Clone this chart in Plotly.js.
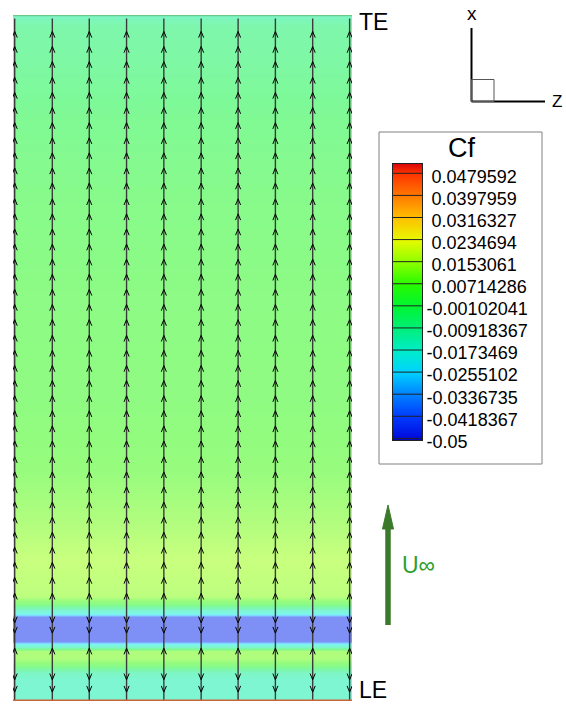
<!DOCTYPE html>
<html>
<head>
<meta charset="utf-8">
<script src="https://cdn.plot.ly/plotly-3.0.1.min.js"></script>
<style>html,body{margin:0;padding:0;background:#fff}#chart{width:566px;height:706px}</style>
</head>
<body>
<div id="chart"></div>
<script>
// ---------------- data ----------------
// spanwise positions (z) of the surface-streamline columns
const columnZ = [0.005, 0.116, 0.225, 0.335, 0.445, 0.555, 0.664, 0.774, 0.884, 0.993];

// chordwise Cf distribution (x/c : 0 = LE, 1 = TE)
const fieldChord = [0.000, 0.030, 0.042, 0.052, 0.063, 0.073, 0.079, 0.083, 0.087, 0.122, 0.127, 0.133, 0.141, 0.153, 0.206, 0.264, 0.337, 0.438, 0.584, 0.730, 0.846, 0.934, 0.985, 0.996, 1.000];
const fieldCf    = [-0.014, -0.014, -0.011, 0.005, 0.012, 0.012, -0.012, -0.020, -0.046, -0.046, -0.020, -0.014, 0.004, 0.014, 0.016, 0.012, 0.008, 0.006, 0.005, 0.003, 0.000, -0.004, -0.006, -0.010, -0.012];

// arrowheads along each streamline: chord position and direction (+1 toward TE, -1 toward LE)
const arrowChord = [0.976, 0.954, 0.932, 0.909, 0.887, 0.865, 0.843, 0.821, 0.799, 0.777, 0.755, 0.732, 0.710, 0.688, 0.666, 0.644, 0.622, 0.600, 0.578, 0.556, 0.533, 0.511, 0.489, 0.467, 0.445, 0.423, 0.401, 0.379, 0.356, 0.334, 0.312, 0.290, 0.268, 0.246, 0.224, 0.202, 0.180, 0.157, 0.114, 0.099, 0.077, 0.031, 0.013];
const arrowDir   = [1, 1, 1, 1, 1, 1, 1, 1, 1, 1, 1, 1, 1, 1, 1, 1, 1, 1, 1, 1, 1, 1, 1, 1, 1, 1, 1, 1, 1, 1, 1, 1, 1, 1, 1, 1, 1, 1, -1, -1, 1, -1, -1];

// legend levels and labels
const legendLevels = [-0.05, -0.0418367, -0.0336735, -0.0255102, -0.0173469, -0.00918367, -0.00102041, 0.00714286, 0.0153061, 0.0234694, 0.0316327, 0.0397959, 0.0479592];
const legendLabels = ['-0.05', '-0.0418367', '-0.0336735', '-0.0255102', '-0.0173469', '-0.00918367', '-0.00102041', '0.00714286', '0.0153061', '0.0234694', '0.0316327', '0.0397959', '0.0479592'];

// colour map stops (value, rgb)
const cmapValues = [-0.0506, -0.05, -0.0418367, -0.0336735, -0.0255102, -0.0173469, -0.00918367, -0.00102041, 0.00714286, 0.0153061, 0.0234694, 0.0316327, 0.0397959, 0.0479592, 0.0514];
const cmapColors = ['rgb(0,0,170)', 'rgb(0,10,220)', 'rgb(0,60,255)', 'rgb(0,130,255)', 'rgb(0,210,255)', 'rgb(0,238,200)', 'rgb(0,238,120)', 'rgb(0,245,50)', 'rgb(40,250,0)', 'rgb(140,255,0)', 'rgb(230,250,0)', 'rgb(255,190,0)', 'rgb(255,120,0)', 'rgb(255,50,0)', 'rgb(220,10,10)'];

// ---------------- styling helpers ----------------
const W = 566, H = 706;
const FONT = 'Liberation Sans, Arial, sans-serif';
const PX = x => x / W;
const PY = y => (H - y) / H;
const zMin = cmapValues[0], zMax = cmapValues[cmapValues.length - 1];
const colorscale = cmapValues.map((v, i) => [(v - zMin) / (zMax - zMin), cmapColors[i]]);
colorscale[colorscale.length - 1][0] = 1;
const HEAD_W = 0.0075, HEAD_H = 0.009;
const STREAK_TOP = 0.995;

// ---------------- traces ----------------
const field = {
  type: 'heatmap', x: [0, 1], y: fieldChord, z: fieldCf.map(v => [v, v]),
  colorscale: colorscale, zmin: zMin, zmax: zMax, zsmooth: 'best', opacity: 0.5,
  showscale: false, hoverinfo: 'skip', xaxis: 'x', yaxis: 'y'
};

const lx = [], ly = [];
columnZ.forEach(z => { lx.push(z, z, null); ly.push(0, STREAK_TOP, null); });
const streaks = { type: 'scatter', mode: 'lines', x: lx, y: ly, line: { color: '#3c3c3c', width: 1.4 }, hoverinfo: 'skip' };

const hx = [], hy = [];
columnZ.forEach(z => {
  arrowChord.forEach((c, i) => {
    const d = arrowDir[i];
    hx.push(z - HEAD_W, z, z + HEAD_W, null);
    hy.push(c - d * HEAD_H, c, c - d * HEAD_H, null);
  });
});
const heads = { type: 'scatter', mode: 'lines', x: hx, y: hy, line: { color: '#000', width: 1 }, hoverinfo: 'skip' };

const leLine = { type: 'scatter', mode: 'lines', x: [0, 1], y: [0, 0], line: { color: '#c9653f', width: 3 }, cliponaxis: false, hoverinfo: 'skip' };
const teLine = { type: 'scatter', mode: 'lines', x: [0, 1], y: [1, 1], line: { color: '#66cc88', width: 2.5 }, cliponaxis: false, hoverinfo: 'skip' };

const legendStrip = {
  type: 'heatmap', x: [0, 1], y: cmapValues, z: cmapValues.map(v => [v, v]),
  colorscale: colorscale, zmin: zMin, zmax: zMax, zsmooth: 'best',
  showscale: false, hoverinfo: 'skip', xaxis: 'x2', yaxis: 'y2'
};
const gx = [], gy = [];
legendLevels.forEach(v => { gx.push(0, 1, null); gy.push(v, v, null); });
const legendLines = { type: 'scatter', mode: 'lines', x: gx, y: gy, xaxis: 'x2', yaxis: 'y2', line: { color: '#222', width: 1 }, hoverinfo: 'skip' };

// positive labels get a leading space so digits line up after the minus sign
const tickText = legendLabels.map(t => t.charAt(0) === '-' ? t : '\u00a0' + t);

// ---------------- layout ----------------
const green = '#3b7a2a';
const layout = {
  width: W, height: H, margin: { l: 0, r: 0, t: 0, b: 0 },
  paper_bgcolor: '#fff', plot_bgcolor: '#fff', showlegend: false,
  font: { family: FONT, color: '#000' },
  xaxis: { domain: [PX(13), PX(352)], range: [0, 1], visible: false },
  yaxis: { domain: [PY(701), PY(15)], range: [0, 1], visible: false },
  xaxis2: { domain: [PX(393), PX(422)], range: [0, 1], anchor: 'y2', showticklabels: false, ticks: '', showgrid: false, zeroline: false, showline: true, mirror: true, linecolor: '#222', linewidth: 1 },
  yaxis2: { domain: [PY(440), PY(164)], range: [zMin, zMax], anchor: 'x2', side: 'right', tickmode: 'array', tickvals: legendLevels, ticktext: tickText, ticks: '', showgrid: false, zeroline: false, showline: true, mirror: true, linecolor: '#222', linewidth: 1, tickfont: { family: FONT, size: 18, color: '#000' }, ticklabelshift: 3 },
  shapes: [
    { type: 'rect', xref: 'paper', yref: 'paper', x0: PX(379), x1: PX(542), y0: PY(464), y1: PY(132), line: { color: '#808080', width: 1 } },
    { type: 'line', xref: 'paper', yref: 'paper', x0: PX(471.5), x1: PX(471.5), y0: PY(101.5), y1: PY(28), line: { color: '#000', width: 2 } },
    { type: 'line', xref: 'paper', yref: 'paper', x0: PX(471.5), x1: PX(545), y0: PY(101.5), y1: PY(101.5), line: { color: '#000', width: 2 } },
    { type: 'rect', xref: 'paper', yref: 'paper', x0: PX(471.5), x1: PX(494), y0: PY(101.5), y1: PY(79.5), line: { color: '#555', width: 1 } },
    { type: 'line', xref: 'paper', yref: 'paper', x0: PX(388), x1: PX(388), y0: PY(625), y1: PY(527), line: { color: green, width: 5.5 } },
    { type: 'path', xref: 'paper', yref: 'paper', path: `M${PX(382.5)},${PY(529)} L${PX(388)},${PY(505)} L${PX(393.5)},${PY(529)} Z`, fillcolor: green, line: { color: green, width: 1 } }
  ],
  annotations: [
    { xref: 'paper', yref: 'paper', x: PX(357), y: PY(22), xanchor: 'left', yanchor: 'middle', text: 'TE', showarrow: false, font: { size: 23, color: '#000' } },
    { xref: 'paper', yref: 'paper', x: PX(357), y: PY(690), xanchor: 'left', yanchor: 'middle', text: 'LE', showarrow: false, font: { size: 23, color: '#000' } },
    { xref: 'paper', yref: 'paper', x: PX(461), y: PY(148), xanchor: 'center', yanchor: 'middle', text: 'Cf', showarrow: false, font: { size: 27, color: '#000' } },
    { xref: 'paper', yref: 'paper', x: PX(471.5), y: PY(13), xanchor: 'center', yanchor: 'middle', text: 'x', showarrow: false, font: { size: 19, color: '#000' } },
    { xref: 'paper', yref: 'paper', x: PX(557), y: PY(101), xanchor: 'center', yanchor: 'middle', text: 'Z', showarrow: false, font: { size: 17, color: '#000' } },
    { xref: 'paper', yref: 'paper', x: PX(400), y: PY(565), xanchor: 'left', yanchor: 'middle', text: 'U∞', showarrow: false, font: { size: 23, color: '#2e9e2e' } }
  ]
};

Plotly.newPlot('chart', [field, legendStrip, streaks, heads, leLine, teLine, legendLines], layout, { displayModeBar: false, staticPlot: true });
</script>
</body>
</html>
